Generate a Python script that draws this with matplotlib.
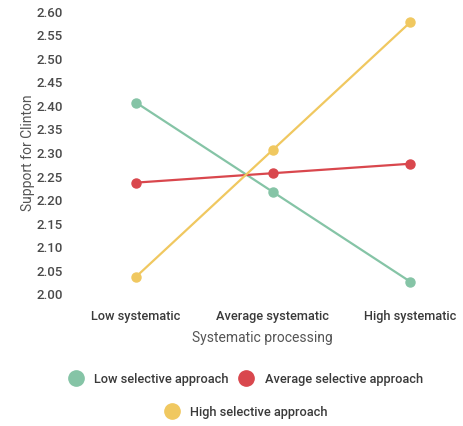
import matplotlib.pyplot as plt
from matplotlib.lines import Line2D

plt.rcParams['font.family'] = ['Roboto', 'DejaVu Sans']

categories = ['Low systematic', 'Average systematic', 'High systematic']
series_names = ['Low selective approach', 'Average selective approach', 'High selective approach']
low_sel = [2.405, 2.215, 2.025]
avg_sel = [2.235, 2.255, 2.275]
high_sel = [2.035, 2.305, 2.575]
yticks = [2.00, 2.05, 2.10, 2.15, 2.20, 2.25, 2.30, 2.35, 2.40, 2.45, 2.50, 2.55, 2.60]

colors = ['#85c4a6', '#d9474d', '#f0c860']

W, H = 463, 427
fig = plt.figure(figsize=(W / 100, H / 100), dpi=100)
fig.patch.set_facecolor('white')

# axes placed in pixels: left 70, right 455, top 7, bottom 299
ax = fig.add_axes([70 / W, (H - 299) / H, 385 / W, 292 / H])
xs = range(len(categories))
for vals, c in zip([low_sel, avg_sel, high_sel], colors):
    ax.plot(xs, vals, color=c, lw=1.6, marker='o', ms=6.5, mec=c, mfc=c, zorder=3)

ax.set_xlim(-(136 - 70) / 137, 2 + (455 - 410) / 137)
ax.set_ylim(1.99, 2.61)
ax.set_yticks(yticks)
ax.set_yticklabels([f'{v:.2f}' for v in yticks], fontsize=9.5, color='#4a4a4a', fontweight='medium')
ax.set_xticks(list(xs))
ax.set_xticklabels(categories, fontsize=9.2, color='#3a3a3a', fontweight='medium')
ax.tick_params(axis='y', length=0, pad=5)
ax.tick_params(axis='x', length=0, pad=8)
for s in ax.spines.values():
    s.set_visible(False)

ax.set_xlabel('Systematic processing', fontsize=10, color='#555555', labelpad=6)
ax.set_ylabel('Support for Clinton', fontsize=10, color='#555555', labelpad=1)

handles = [Line2D([], [], ls='none', marker='o', ms=11, mfc=c, mec=c) for c in colors]
leg1 = fig.legend(handles[:2], series_names[:2], loc='center', ncol=2,
                  bbox_to_anchor=(245.7 / W, 1 - 380 / H), frameon=False,
                  fontsize=9.2, handletextpad=0.85, columnspacing=0.77, handlelength=1.2)
leg2 = fig.legend(handles[2:], series_names[2:], loc='center',
                  bbox_to_anchor=(246 / W, 1 - 413 / H), frameon=False,
                  fontsize=9.2, handletextpad=0.85, handlelength=1.2)
for t in leg1.get_texts() + leg2.get_texts():
    t.set_color('#3a3a3a')
    t.set_fontweight('medium')

fig.savefig('out.png', dpi=100)
